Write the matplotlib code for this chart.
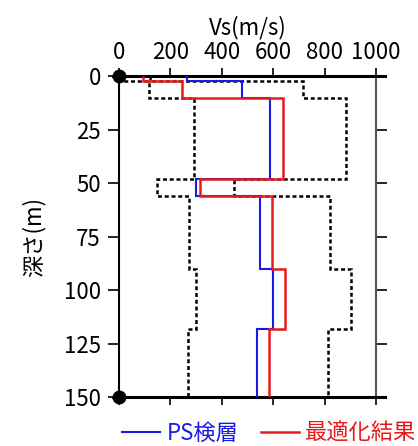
import matplotlib
matplotlib.use('Agg')
import matplotlib.pyplot as plt
import numpy as np

# layer boundaries (depth, m)
depth_edges=[0,2,10,48,56,90,118,150]
# Vs per layer (m/s)
vs_ps=[266,479,588,298,549,598,538]
vs_opt=[95,244,638,315,594,647,584]
vs_lower=[10,116,293,147,272,300,270]
vs_upper=[120,716,882,449,822,902,812]

xticks=[0,200,400,600,800,1000]
yticks=[0,25,50,75,100,125,150]

plt.rcParams['font.family']=['Noto Sans CJK JP','DejaVu Sans']
plt.rcParams['font.size']=16

fig=plt.figure(figsize=(4.18,4.46),dpi=100)
ax=fig.add_axes([0.2847,0.1092,0.6148,0.7193])

# search range
ax.stairs(vs_lower,depth_edges,orientation='horizontal',baseline=None,
          color='k',lw=1.8,ls=(0,(1.6,1.1)),zorder=2)
ax.stairs(vs_upper,depth_edges,orientation='horizontal',baseline=None,
          color='k',lw=1.8,ls=(0,(1.6,1.1)),zorder=2)
# profiles
ax.stairs(vs_ps,depth_edges,orientation='horizontal',baseline=None,
          color='#1a1ae6',lw=1.5,zorder=3,label='PS検層')
ax.stairs(vs_opt,depth_edges,orientation='horizontal',baseline=None,
          color='#e61a1a',lw=1.8,zorder=4,label='最適化結果')

ax.set_xlim(0,1000)
ax.set_ylim(150,0)
ax.set_xticks(xticks)
ax.set_yticks(yticks)
ax.xaxis.tick_top()
ax.xaxis.set_label_position('top')
ax.tick_params(axis='x',which='both',top=True,bottom=True,labeltop=True,labelbottom=False,
               direction='out',length=6,width=1.2,pad=3)
ax.tick_params(axis='y',which='both',left=True,right=True,direction='out',length=8,width=1.2,pad=5)
ax.set_xlabel('Vs(m/s)',labelpad=5)
ax.set_ylabel('深さ(m)',labelpad=13)

for s in ['top','bottom']:
    ax.spines[s].set_linewidth(2.2)
    ax.spines[s].set_bounds(-25,1035)
ax.spines['left'].set_linewidth(1.5)
ax.spines['right'].set_linewidth(1.5)
ax.spines['right'].set_color('#555555')

ax.plot([0,0],[0,150],ls='none',marker='o',ms=9,color='k',clip_on=False,zorder=6)

leg=ax.legend(loc='upper center',bbox_to_anchor=(0.585,-0.05),ncol=2,frameon=False,
              handlelength=1.7,handletextpad=0.3,columnspacing=1.0,labelcolor='linecolor',
              borderaxespad=0)

fig.savefig('out.png',dpi=100)
